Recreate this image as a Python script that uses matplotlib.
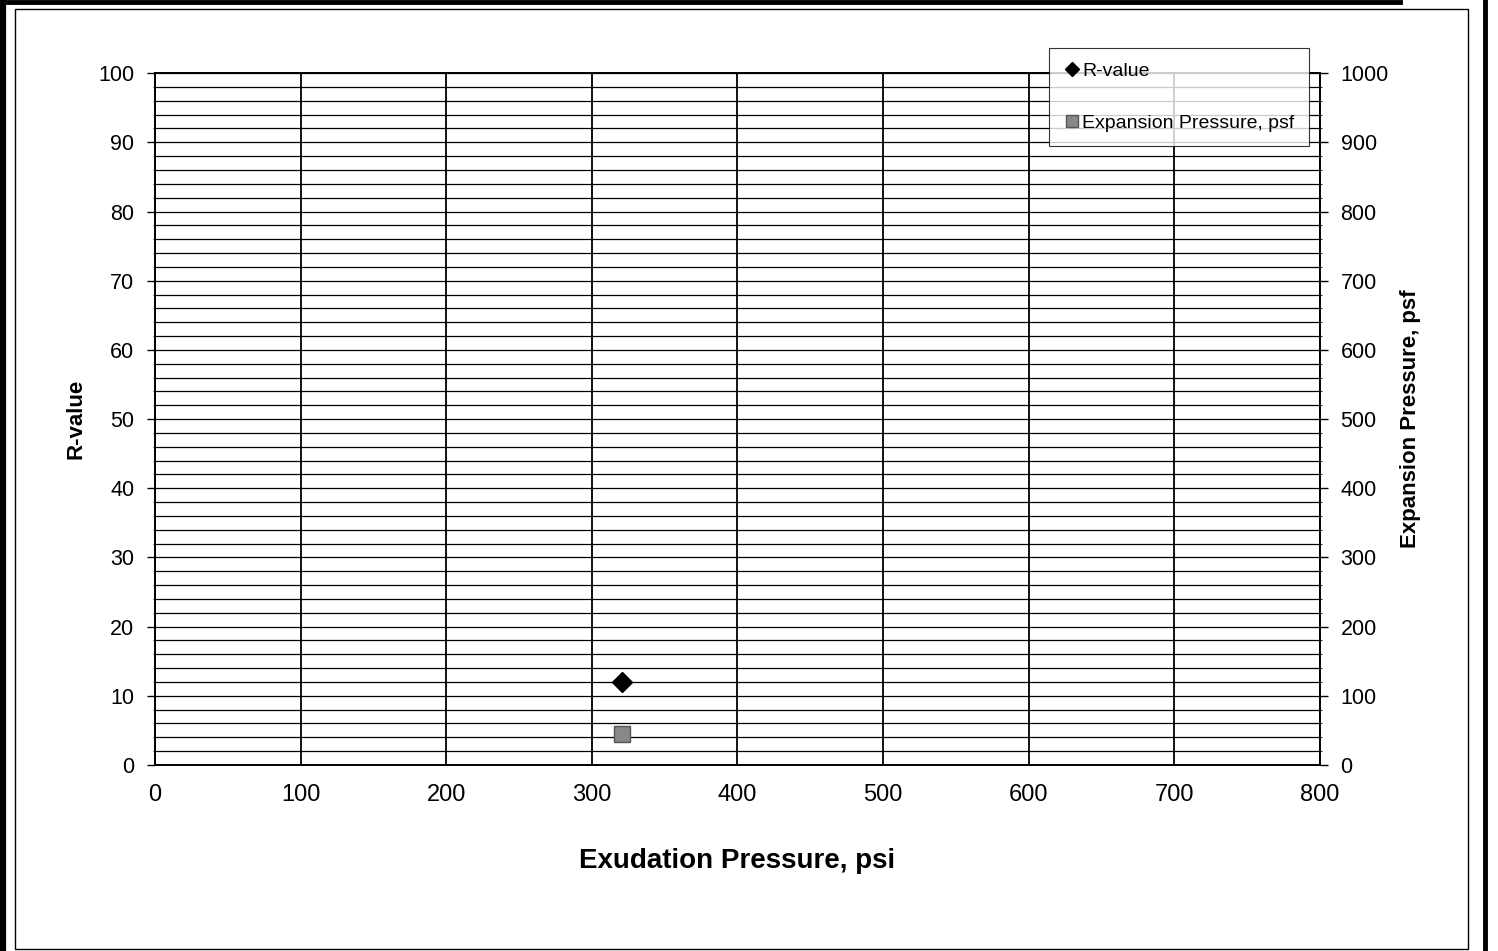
import matplotlib.pyplot as plt
import numpy as np
from matplotlib.patches import Rectangle
from matplotlib.lines import Line2D

plt.rcParams['font.family'] = ['Liberation Sans', 'DejaVu Sans']

# data
exudation = [321]
r_value = [12]
expansion = [45]

fig = plt.figure(figsize=(14.98, 9.51), dpi=100)
ax = fig.add_axes([0.1035, 0.1956, 0.7775, 0.7275])
ax2 = ax.twinx()

ax.set_xlim(0, 800)
ax.set_ylim(0, 100)
ax2.set_ylim(0, 1000)

ax.set_xticks(np.arange(0, 801, 100))
ax.set_yticks(np.arange(0, 101, 10))
ax.set_yticks(np.arange(0, 101, 2), minor=True)
ax2.set_yticks(np.arange(0, 1001, 100))
ax2.set_yticks(np.arange(0, 1001, 20), minor=True)

ax.grid(True, axis='y', which='both', color='black', lw=0.9)
ax.grid(True, axis='x', which='major', color='black', lw=1.3)
ax.set_axisbelow(True)

for a in (ax, ax2):
    for s in a.spines.values():
        s.set_linewidth(1.2)
    a.tick_params(axis='both', which='major', labelsize=15.5, length=6, width=1, direction='out', pad=9)
    a.tick_params(axis='y', which='minor', length=3, direction='inout')
ax.tick_params(axis='x', length=0, pad=14, labelsize=17)

ax.plot(exudation, r_value, 'D', color='black', ms=10, label='R-value')
ax2.plot(exudation, expansion, 's', color='#888888', mec='#555555', ms=11,
         label='Expansion Pressure, psf')

ax.set_xlabel('Exudation Pressure, psi', fontsize=20, fontweight='bold', labelpad=30)
ax.set_ylabel('R-value', fontsize=16, fontweight='bold', labelpad=8)
ax2.set_ylabel('Expansion Pressure, psf', fontsize=16, fontweight='bold', labelpad=8)

handles = [Line2D([], [], ls='none', marker='D', color='black', ms=7),
           Line2D([], [], ls='none', marker='s', color='#888888', mec='#555555', ms=8)]
labels = ['R-value', 'Expansion Pressure, psf']
leg = fig.legend(handles, labels, loc='upper left',
                 bbox_to_anchor=(1049 / 1498, 1 - 48 / 951), fontsize=14,
                 frameon=True, fancybox=False, edgecolor='black', borderpad=0.75,
                 labelspacing=1.75, handletextpad=0.05, handlelength=0.9,
                 borderaxespad=0)
leg.get_frame().set_linewidth(0.8)
leg.set_zorder(10)

# page frame
W, H = 1498, 951
fig.add_artist(Line2D([3 / W, 3 / W], [0, 1], color='black', lw=4.5, transform=fig.transFigure))
fig.add_artist(Line2D([0, 1400 / W], [1 - 2 / H, 1 - 2 / H], color='black', lw=3.5, transform=fig.transFigure))
fig.add_artist(Line2D([1485 / W, 1485 / W], [0, 1], color='black', lw=3.5, transform=fig.transFigure))
fig.patches.append(Rectangle((15 / W, 1 - 949 / H), (1468 - 15) / W, (949 - 9) / H,
                             transform=fig.transFigure, fill=False, ec='black', lw=1))

fig.savefig('out.png', dpi=100)
